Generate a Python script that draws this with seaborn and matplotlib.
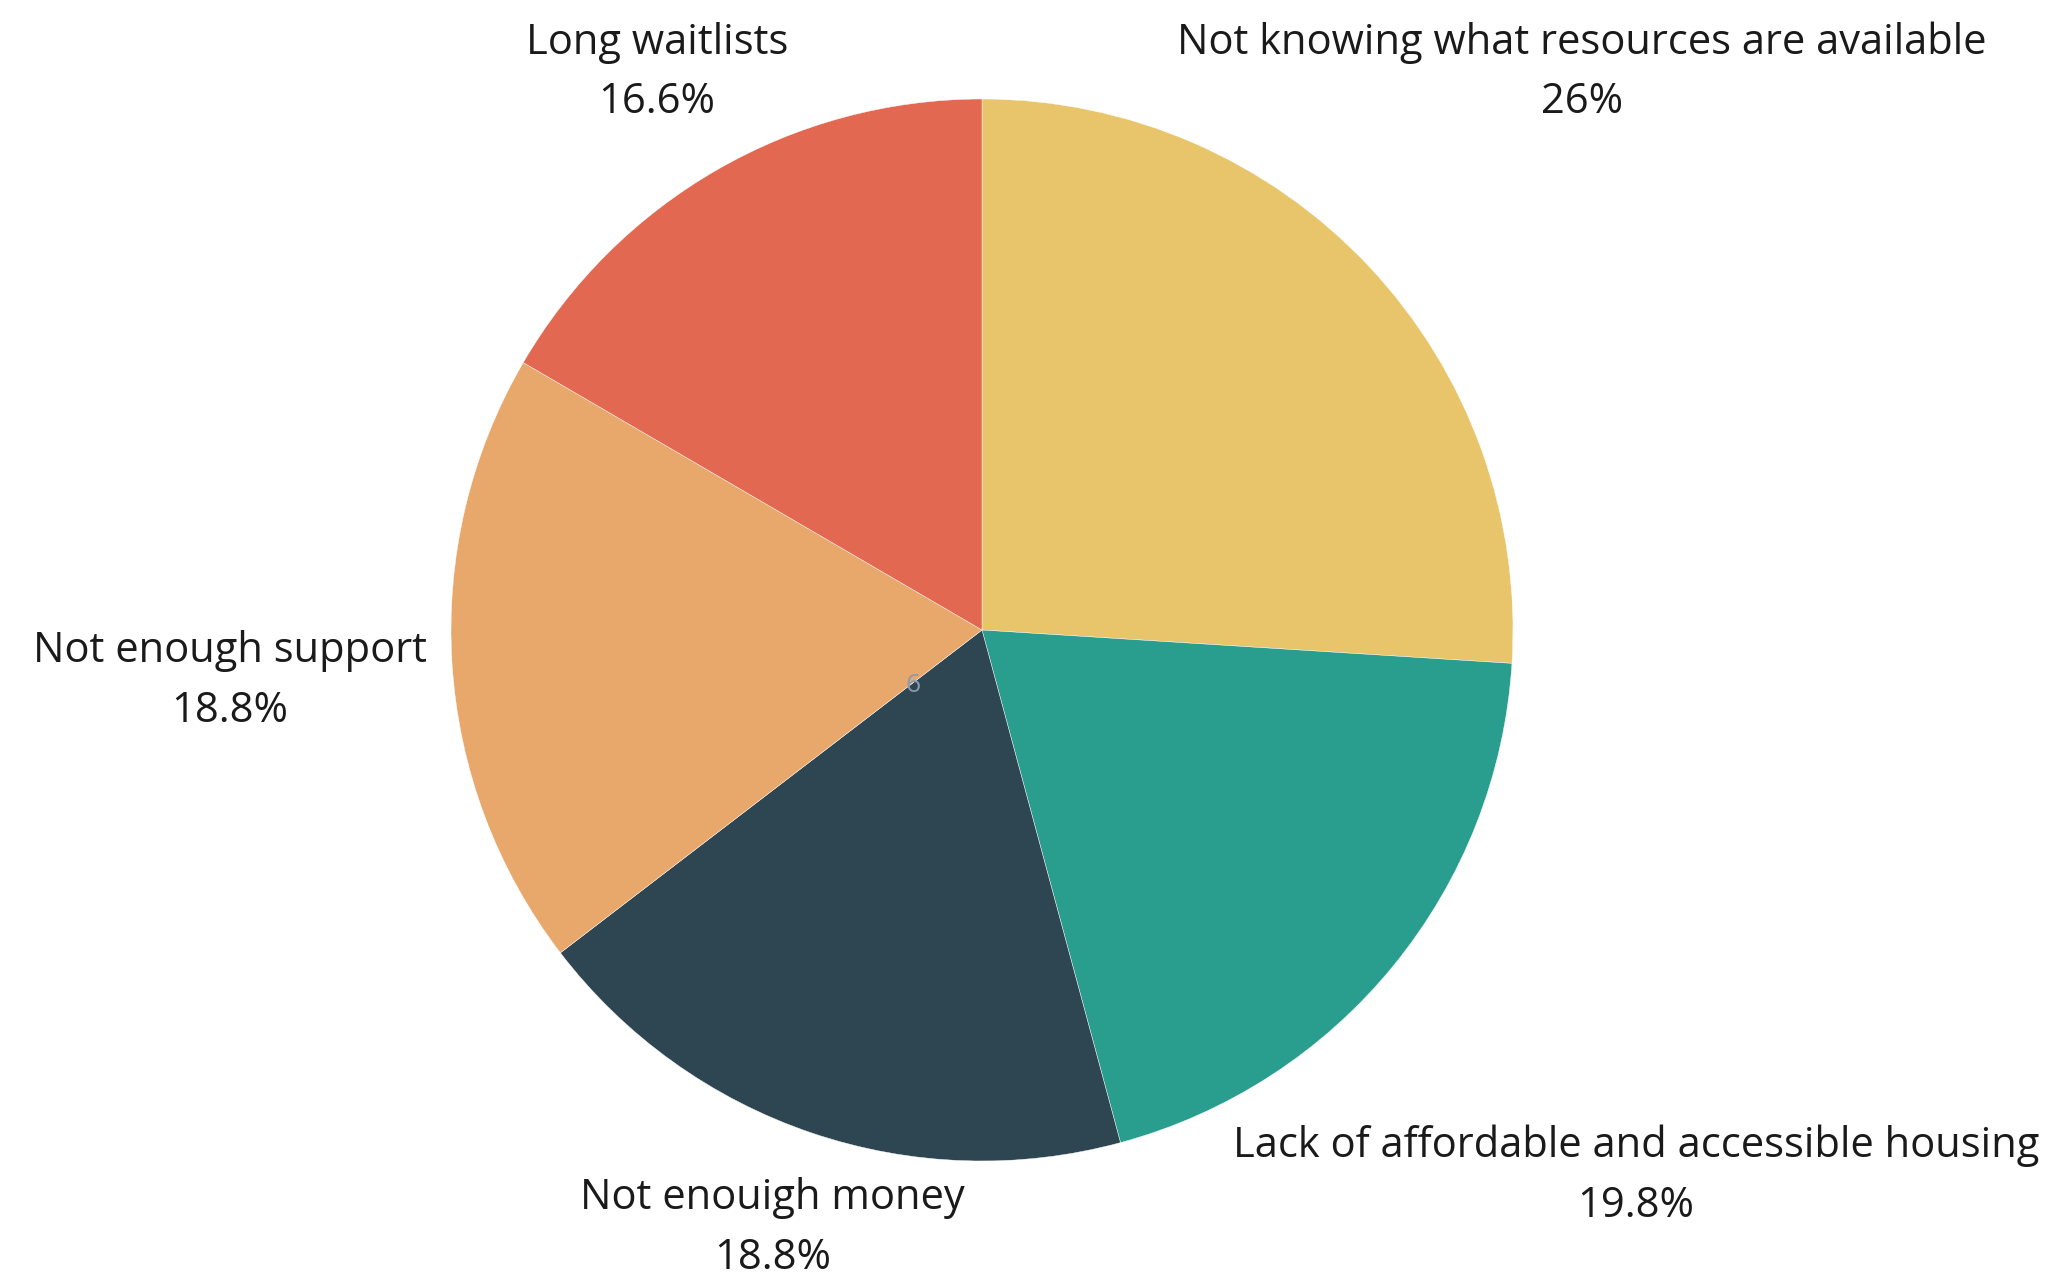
import matplotlib
matplotlib.use("Agg")
import matplotlib.pyplot as plt
import seaborn as sns

# data
categories = ["Not knowing what resources are available",
              "Lack of affordable and accessible housing",
              "Not enouigh money",
              "Not enough support",
              "Long waitlists"]
shares = [26.0, 19.8, 18.8, 18.8, 16.6]
pct_labels = ["26%", "19.8%", "18.8%", "18.8%", "16.6%"]
slice_colors = ["#E8C56A", "#2A9E8E", "#2E4552", "#E8A76B", "#E36852"]

# label centres in pie-radius units (layout)
label_pos = [(1.130, 1.050), (1.232, -1.028), (-0.394, -1.126),
             (-1.416, -0.096), (-0.612, 1.050)]

sns.set_theme(style="white")
plt.rcParams["font.family"] = ["Open Sans", "DejaVu Sans"]

W, H, dpi = 2052, 1279, 100
cx, cy, r = 982, 630, 531  # pie centre / radius in pixels

fig = plt.figure(figsize=(W / dpi, H / dpi), dpi=dpi)
ax = fig.add_axes([0, 0, 1, 1])
palette = sns.color_palette(slice_colors)

ax.pie(shares, colors=palette, startangle=90, counterclock=False,
       radius=1, center=(0, 0),
       wedgeprops=dict(edgecolor="white", linewidth=0.3))

for name, pct, (x, y) in zip(categories, pct_labels, label_pos):
    ax.text(x, y, f"{name}\n{pct}", ha="center", va="center",
            fontsize=30, color="#1a1a1a", linespacing=1.55)

# faint stray label near the centre
ax.text((913 - cx) / r, (cy - 685) / r, "6", ha="center", va="center",
        fontsize=19, color="#8A9AB0")

ax.set_xlim(-cx / r, (W - cx) / r)
ax.set_ylim(-(H - cy) / r, cy / r)
ax.set_aspect("auto")
ax.axis("off")

fig.savefig("out.png", dpi=dpi, facecolor="white")
